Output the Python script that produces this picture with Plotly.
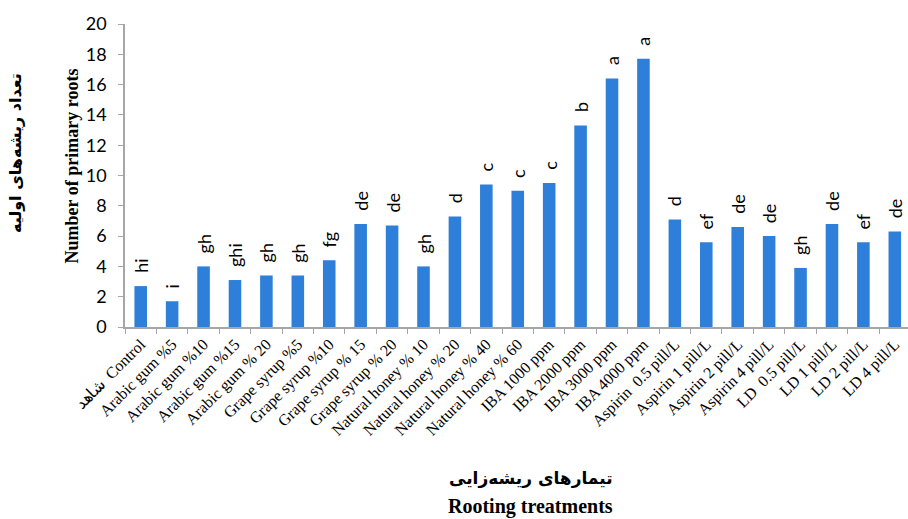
import plotly.graph_objects as go

categories = [
    "شاهد  Control", "Arabic gum %5", "Arabic gum %10", "Arabic gum %15", "Arabic gum % 20",
    "Grape syrup %5", "Grape syrup %10", "Grape syrup % 15", "Grape syrup % 20",
    "Natural honey % 10", "Natural honey % 20", "Natural honey % 40", "Natural honey % 60",
    "IBA 1000 ppm", "IBA 2000 ppm", "IBA 3000 ppm", "IBA 4000 ppm",
    "Aspirin  0.5 pill/L", "Aspirin 1 pill/L", "Aspirin 2 pill/L", "Aspirin 4 pill/L",
    "LD  0.5 pill/L", "LD 1 pill/L", "LD 2 pill/L", "LD 4 pill/L",
]
values = [2.7, 1.7, 4.0, 3.1, 3.4, 3.4, 4.4, 6.8, 6.7, 4.0, 7.3, 9.4, 9.0,
          9.5, 13.3, 16.4, 17.7, 7.1, 5.6, 6.6, 6.0, 3.9, 6.8, 5.6, 6.3]
letters = ["hi", "i", "gh", "ghi", "gh", "gh", "fg", "de", "de", "gh", "d", "c", "c",
           "c", "b", "a", "a", "d", "ef", "de", "de", "gh", "de", "ef", "de"]
y_ticks = [0, 2, 4, 6, 8, 10, 12, 14, 16, 18, 20]

BAR = "#2E7FD9"
AX = "#A6A6A6"
SERIF = "Liberation Serif"
SANS = "Lato"

fig = go.Figure()
fig.add_trace(go.Bar(
    x=categories, y=values,
    marker=dict(color=BAR, line=dict(width=0)),
    width=0.4, hoverinfo="skip",
))

for c, v, t in zip(categories, values, letters):
    fig.add_annotation(
        x=c, y=v, text=t, showarrow=False, textangle=-90,
        xanchor="center", yanchor="bottom", yshift=11,
        font=dict(family=SANS, size=18, color="#000000"),
    )

fig.add_annotation(
    xref="paper", yref="paper", x=-53 / 783, y=0.53, text="<b>Number of primary roots</b>",
    textangle=-90, showarrow=False, xanchor="center", yanchor="middle",
    font=dict(family=SERIF, size=18, color="#000000"),
)
fig.add_annotation(
    xref="paper", yref="paper", x=-110 / 783, y=0.574, text="<b>تعداد ریشه‌های اولیه</b>",
    textangle=-90, showarrow=False, xanchor="center", yanchor="middle",
    font=dict(family="DejaVu Sans", size=16, color="#000000"),
)
fig.add_annotation(
    xref="paper", yref="paper", x=0.518, y=-151 / 303, text="<b>تیمارهای ریشه‌زایی</b>",
    showarrow=False, xanchor="center", yanchor="middle",
    font=dict(family="DejaVu Sans", size=17, color="#000000"),
)
fig.add_annotation(
    xref="paper", yref="paper", x=0.518, y=-179 / 303, text="<b>Rooting treatments</b>",
    showarrow=False, xanchor="center", yanchor="middle",
    font=dict(family=SERIF, size=20, color="#000000"),
)

fig.update_layout(
    width=908, height=519,
    margin=dict(l=125, r=0, t=24, b=192),
    plot_bgcolor="#FFFFFF", paper_bgcolor="#FFFFFF",
    showlegend=False, bargap=0.6,
)
fig.update_xaxes(
    type="category", range=[-0.5, 24.42], tickson="boundaries",
    tickangle=-45, tickfont=dict(family=SERIF, size=16, color="#000000"),
    showline=True, linecolor=AX, linewidth=1.5,
    ticks="outside", ticklen=5, tickcolor=AX, showgrid=False, zeroline=False,
)
fig.update_yaxes(
    range=[0, 20], tickmode="array", tickvals=y_ticks,
    tickfont=dict(family=SANS, size=18, color="#000000"),
    ticklabelstandoff=8,
    showline=True, linecolor=AX, linewidth=1.5,
    ticks="outside", ticklen=5, tickcolor=AX, showgrid=False, zeroline=False,
)

fig.write_html("out.html")
